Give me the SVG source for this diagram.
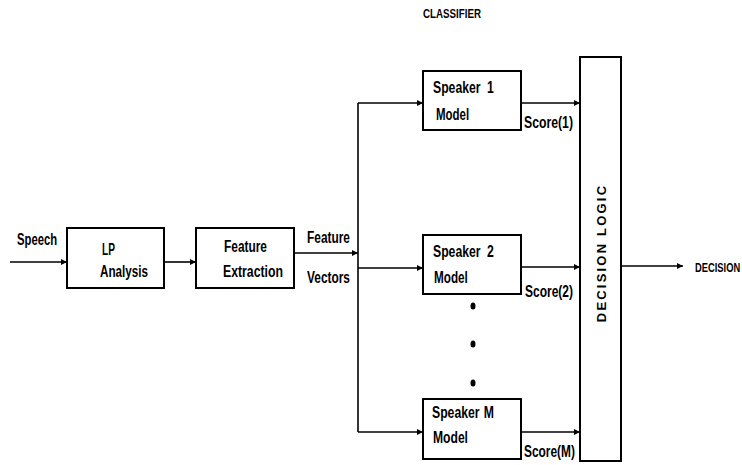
<svg xmlns="http://www.w3.org/2000/svg" width="742" height="465" viewBox="0 0 742 465">
<style>
.box{fill:#fff;stroke:#000;stroke-width:2}
.ln{fill:none;stroke:#000;stroke-width:1.6}
text{font-family:"Liberation Sans",Arial,sans-serif;font-weight:bold;font-size:17px;fill:#000}
.sm{font-size:13px}
.dl{font-size:13px;letter-spacing:2.2px}
</style>
<defs>
<marker id="ah" viewBox="0 0 10 10" refX="10" refY="5" markerWidth="7" markerHeight="6" markerUnits="userSpaceOnUse" orient="auto">
<path d="M0,0 L10,5 L0,10 z" fill="#000"/>
</marker>
</defs>
<text class="sm" transform="translate(423,18) scale(0.75,1)">CLASSIFIER</text>
<g id="connectors">
<path class="ln" d="M10,262 H67" marker-end="url(#ah)"/>
<path class="ln" d="M164,262 H196" marker-end="url(#ah)"/>
<path class="ln" d="M294,253 H358" marker-end="url(#ah)"/>
<path class="ln" d="M358,103 V432"/>
<path class="ln" d="M358,103 H423" marker-end="url(#ah)"/>
<path class="ln" d="M358,268 H423" marker-end="url(#ah)"/>
<path class="ln" d="M358,432 H423" marker-end="url(#ah)"/>
<path class="ln" d="M521,103 H580" marker-end="url(#ah)"/>
<path class="ln" d="M521,267 H580" marker-end="url(#ah)"/>
<path class="ln" d="M521,432 H580" marker-end="url(#ah)"/>
<path class="ln" d="M621,266 H683" marker-end="url(#ah)"/>
<text transform="translate(17,245) scale(0.72,1)" textLength="55.6" lengthAdjust="spacingAndGlyphs">Speech</text>
<text transform="translate(307,243) scale(0.72,1)" textLength="59.7" lengthAdjust="spacingAndGlyphs">Feature</text>
<text transform="translate(307,283) scale(0.72,1)" textLength="59.7" lengthAdjust="spacingAndGlyphs">Vectors</text>
<text transform="translate(524,128) scale(0.72,1)" textLength="68" lengthAdjust="spacingAndGlyphs">Score(1)</text>
<text transform="translate(525,297) scale(0.72,1)" textLength="66.7" lengthAdjust="spacingAndGlyphs">Score(2)</text>
<text transform="translate(524,457) scale(0.72,1)" textLength="70.8" lengthAdjust="spacingAndGlyphs">Score(M)</text>
<text class="sm" transform="translate(695,272) scale(0.72,1)">DECISION</text>
</g>
<g id="lp">
<rect class="box" x="67" y="228" width="97" height="60"/>
<text transform="translate(102,255) scale(0.72,1)" textLength="18" lengthAdjust="spacingAndGlyphs">LP</text>
<text transform="translate(100,277) scale(0.72,1)" textLength="66.7" lengthAdjust="spacingAndGlyphs">Analysis</text>
</g>
<g id="fe">
<rect class="box" x="196" y="228" width="98" height="60"/>
<text transform="translate(224,252) scale(0.72,1)" textLength="59.7" lengthAdjust="spacingAndGlyphs">Feature</text>
<text transform="translate(223,277) scale(0.72,1)" textLength="83.3" lengthAdjust="spacingAndGlyphs">Extraction</text>
</g>
<g id="spk1">
<rect class="box" x="423" y="71" width="98" height="59"/>
<text transform="translate(433,93) scale(0.72,1)">Speaker<tspan x="75">1</tspan></text>
<text transform="translate(436,120) scale(0.72,1)" textLength="46" lengthAdjust="spacingAndGlyphs">Model</text>
</g>
<g id="spk2">
<rect class="box" x="423" y="235" width="98" height="59"/>
<text transform="translate(433,257) scale(0.72,1)">Speaker<tspan x="75">2</tspan></text>
<text transform="translate(434,283) scale(0.72,1)" textLength="47" lengthAdjust="spacingAndGlyphs">Model</text>
</g>
<g id="dots">
<ellipse cx="473" cy="306" rx="2.5" ry="3.5"/>
<ellipse cx="473" cy="344" rx="2.5" ry="3.5"/>
<ellipse cx="473" cy="383" rx="2.5" ry="3.5"/>
</g>
<g id="spkM">
<rect class="box" x="423" y="399" width="98" height="60"/>
<text transform="translate(432,418) scale(0.72,1)">Speaker<tspan x="72">M</tspan></text>
<text transform="translate(433,443) scale(0.72,1)" textLength="48.6" lengthAdjust="spacingAndGlyphs">Model</text>
</g>
<g id="decision">
<rect class="box" x="580" y="57" width="41" height="404"/>
<text class="dl" transform="translate(606,253) rotate(-90)" text-anchor="middle">DECISION LOGIC</text>
</g>
</svg>
